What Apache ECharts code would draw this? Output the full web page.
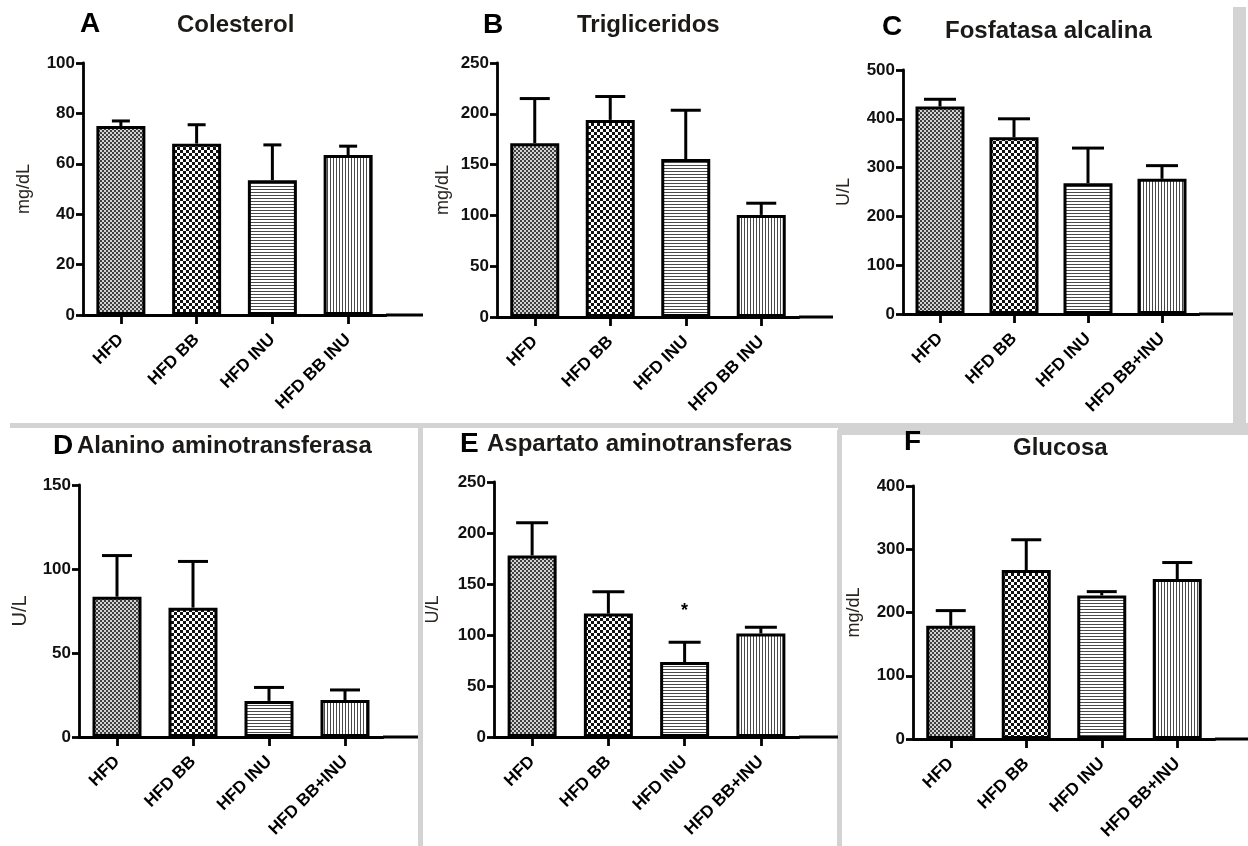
<!DOCTYPE html>
<html><head><meta charset="utf-8">
<script src="https://cdn.jsdelivr.net/npm/echarts@6/dist/echarts.min.js"></script>
<style>html,body{margin:0;padding:0;background:#fff}#c{width:1248px;height:846px}</style>
</head><body><div id="c"></div><script>
// ---- data ----
const catsAB = ['HFD', 'HFD BB', 'HFD INU', 'HFD BB INU'];
const catsCF = ['HFD', 'HFD BB', 'HFD INU', 'HFD BB+INU'];
const colesterolMean = [75, 68, 53.5, 63.5];
const colesterolUpper = [77, 75.5, 67.5, 67];
const trigMean = [171, 194, 155.5, 100.5];
const trigUpper = [215, 217, 203.5, 112];
const fosfMean = [425, 362, 268, 277];
const fosfUpper = [440, 400, 340, 304];
const altMean = [83.5, 77, 21.5, 22];
const altUpper = [108, 104.5, 29.5, 28];
const astMean = [178, 121, 73.5, 101.5];
const astUpper = [210, 142.5, 93, 107.5];
const glucMean = [179, 267, 227, 253];
const glucUpper = [203, 315, 233, 279];
const astStar = [null, null, 128, null];
const letters = ['A', 'B', 'C', 'D', 'E', 'F'];
const titles = ['Colesterol', 'Trigliceridos', 'Fosfatasa alcalina', 'Alanino aminotransferasa', 'Aspartato aminotransferas', 'Glucosa'];
const units = ['mg/dL', 'mg/dL', 'U/L', 'U/L', 'U/L', 'mg/dL'];
const yMax = [100, 250, 500, 150, 250, 400];
const yInterval = [20, 50, 100, 50, 50, 100];

// ---- layout / style ----
const FONT = '"Liberation Sans", Arial, sans-serif';
const layout = [
  {left: 83, top: 63, width: 303, height: 252, axisEnd: 423, capHalf: 9, nameGap: 50, nameSize: 18, lx: 80, ly: 24, tx: 177, ty: 25},
  {left: 497, top: 63, width: 302, height: 254, axisEnd: 833, capHalf: 15, nameGap: 45, nameSize: 18, lx: 483, ly: 25, tx: 577, ty: 25},
  {left: 903, top: 70, width: 296, height: 244, axisEnd: 1233, capHalf: 16, nameGap: 50, nameSize: 18, lx: 882, ly: 27, tx: 945, ty: 31},
  {left: 79, top: 485, width: 304, height: 252, axisEnd: 418, capHalf: 15, nameGap: 49, nameSize: 20, lx: 53, ly: 446, tx: 77, ty: 446},
  {left: 494, top: 482, width: 305, height: 255, axisEnd: 838, capHalf: 16, nameGap: 52, nameSize: 18, lx: 460, ly: 444, tx: 487, ty: 444},
  {left: 913, top: 486, width: 302, height: 253, axisEnd: 1248, capHalf: 15, nameGap: 50, nameSize: 18, lx: 904, ly: 442, tx: 1013, ty: 448}
];

function makeCanvas(w, h, draw) {
  const c = document.createElement('canvas'); c.width = w; c.height = h;
  draw(c.getContext('2d')); return c;
}
const patFine = makeCanvas(4, 4, g => { g.fillStyle = '#d2d2d2'; g.fillRect(0, 0, 4, 4); g.fillStyle = '#404040'; g.fillRect(0, 0, 2, 2); g.fillRect(2, 2, 2, 2); });
const patCheck = makeCanvas(6, 6, g => { g.fillStyle = '#fff'; g.fillRect(0, 0, 6, 6); g.fillStyle = '#111'; g.fillRect(0, 0, 3, 3); g.fillRect(3, 3, 3, 3); });
const patH = makeCanvas(3, 3, g => { g.fillStyle = '#fff'; g.fillRect(0, 0, 3, 3); g.fillStyle = '#4a4a4a'; g.fillRect(0, 0, 3, 1); });
const patV = makeCanvas(3, 3, g => { g.fillStyle = '#fff'; g.fillRect(0, 0, 3, 3); g.fillStyle = '#4a4a4a'; g.fillRect(0, 0, 1, 3); });
const patterns = [patFine, patCheck, patH, patV].map(c => ({image: c, repeat: 'repeat'}));

const panels = [
  {cats: catsAB, mean: colesterolMean, upper: colesterolUpper},
  {cats: catsAB, mean: trigMean, upper: trigUpper},
  {cats: catsCF, mean: fosfMean, upper: fosfUpper},
  {cats: catsCF, mean: altMean, upper: altUpper},
  {cats: catsCF, mean: astMean, upper: astUpper, star: astStar},
  {cats: catsCF, mean: glucMean, upper: glucUpper}
];

const grid = [], xAxis = [], yAxis = [], series = [], graphic = [];
panels.forEach((p, k) => {
  const L = layout[k];
  grid.push({left: L.left, top: L.top, width: L.width, height: L.height, containLabel: false, outerBoundsMode: 'none'});
  xAxis.push({
    type: 'category', gridIndex: k, data: p.cats, boundaryGap: true,
    axisLine: {show: true, lineStyle: {color: '#000', width: 2.8}},
    axisTick: {show: true, alignWithLabel: true, length: 9, lineStyle: {color: '#000', width: 2.8}},
    axisLabel: {interval: 0, rotate: 45, margin: 22, color: '#000', fontSize: 17, fontWeight: 'bold', fontFamily: FONT},
    splitLine: {show: false}
  });
  yAxis.push({
    type: 'value', gridIndex: k, min: 0, max: yMax[k], interval: yInterval[k],
    name: units[k], nameLocation: 'middle', nameGap: L.nameGap,
    nameTextStyle: {color: '#2b2622', fontSize: L.nameSize, fontFamily: FONT},
    axisLine: {show: true, lineStyle: {color: '#000', width: 2.8}},
    axisTick: {show: true, inside: false, length: 7, lineStyle: {color: '#000', width: 2.8}},
    axisLabel: {margin: 8, color: '#111', fontSize: 17, fontWeight: 'bold', fontFamily: FONT},
    splitLine: {show: false}
  });
  const bar = {
    type: 'bar', xAxisIndex: k, yAxisIndex: k, barWidth: 49, z: 2,
    data: p.mean.map((v, i) => ({value: v, itemStyle: {color: patterns[i], borderColor: '#000', borderWidth: 3}})),
    animation: false
  };
  if (p.star) {
    bar.markPoint = {
      symbol: 'circle', symbolSize: 0, animation: false,
      data: p.star.map((v, i) => v == null ? null : {coord: [p.cats[i], v]}).filter(d => d),
      label: {show: true, formatter: '*', position: 'inside', offset: [0, 5], fontSize: 18, fontWeight: 'bold', color: '#000', fontFamily: FONT}
    };
  }
  series.push(bar);
  series.push({
    type: 'custom', xAxisIndex: k, yAxisIndex: k, z: 3, animation: false,
    data: p.mean.map((v, i) => [i, v, p.upper[i]]),
    renderItem: (params, api) => {
      const a = api.coord([api.value(0), api.value(1)]);
      const b = api.coord([api.value(0), api.value(2)]);
      const st = {stroke: '#000', lineWidth: 3};
      return {type: 'group', children: [
        {type: 'line', shape: {x1: a[0], y1: a[1], x2: b[0], y2: b[1]}, style: st},
        {type: 'line', shape: {x1: b[0] - L.capHalf, y1: b[1], x2: b[0] + L.capHalf, y2: b[1]}, style: st}
      ]};
    }
  });
  // axis extension beyond last category (GraphPad style)
  graphic.push({type: 'line', shape: {x1: L.left + L.width, y1: L.top + L.height, x2: L.axisEnd, y2: L.top + L.height}, style: {stroke: '#000', lineWidth: 2.8}});
  graphic.push({type: 'text', x: L.lx, y: L.ly, style: {text: letters[k], fontSize: 28, fontWeight: 'bold', fontFamily: FONT, fill: '#000', verticalAlign: 'middle', align: 'left'}});
  graphic.push({type: 'text', x: L.tx, y: L.ty, style: {text: titles[k], fontSize: 24, fontWeight: 'bold', fontFamily: FONT, fill: '#1c1a18', verticalAlign: 'middle', align: 'left'}});
});

// gray panel separators
const GRAY = '#d3d3d3';
[[10, 423, 828, 5], [838, 423, 410, 12], [1233, 7, 13, 428], [418, 427, 5, 419], [837, 430, 5, 416]].forEach(r => {
  graphic.push({type: 'rect', shape: {x: r[0], y: r[1], width: r[2], height: r[3]}, style: {fill: GRAY}, z: -1});
});

const chart = echarts.init(document.getElementById('c'), null, {renderer: 'canvas'});
chart.setOption({animation: false, backgroundColor: '#fff', grid, xAxis, yAxis, series, graphic});
</script></body></html>
